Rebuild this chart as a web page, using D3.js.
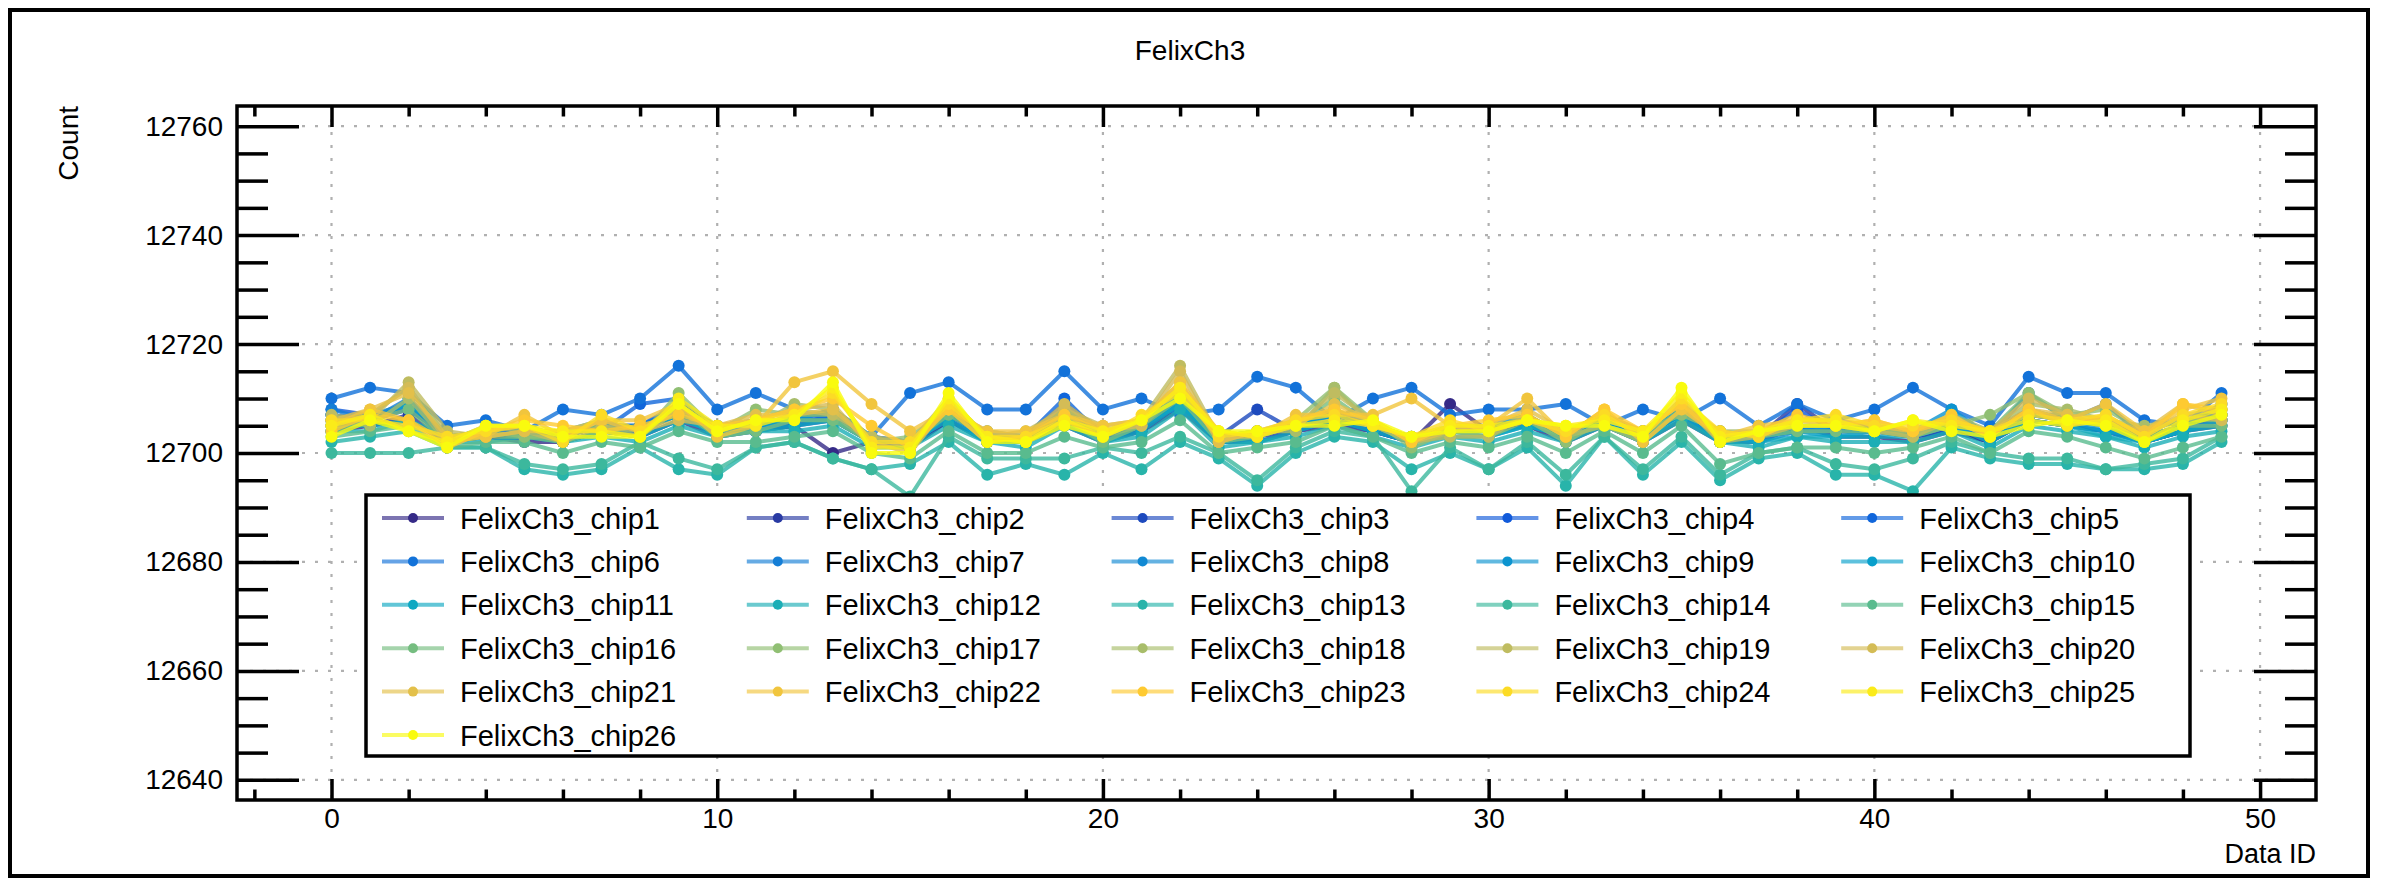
<!DOCTYPE html>
<html>
<head>
<meta charset="utf-8">
<script src="https://cdn.jsdelivr.net/npm/d3@7/dist/d3.min.js"></script>
<style>
  html, body { margin: 0; padding: 0; background: #fff; }
  svg { display: block; }
  text { font-family: "Liberation Sans", Arial, Helvetica, sans-serif; fill: #000; }
</style>
</head>
<body>
<svg id="chart" width="2381" height="880"></svg>
<script>
// ---------------- DATA ----------------
const dataIds = [0,1,2,3,4,5,6,7,8,9,10,11,12,13,14,15,16,17,18,19,20,21,22,23,24,25,26,27,28,29,30,31,32,33,34,35,36,37,38,39,40,41,42,43,44,45,46,47,48,49];

const seriesNames = ["FelixCh3_chip1","FelixCh3_chip2","FelixCh3_chip3","FelixCh3_chip4","FelixCh3_chip5",
  "FelixCh3_chip6","FelixCh3_chip7","FelixCh3_chip8","FelixCh3_chip9","FelixCh3_chip10",
  "FelixCh3_chip11","FelixCh3_chip12","FelixCh3_chip13","FelixCh3_chip14","FelixCh3_chip15",
  "FelixCh3_chip16","FelixCh3_chip17","FelixCh3_chip18","FelixCh3_chip19","FelixCh3_chip20",
  "FelixCh3_chip21","FelixCh3_chip22","FelixCh3_chip23","FelixCh3_chip24","FelixCh3_chip25","FelixCh3_chip26"];

const chip1 = [12704,12705,12706,12702,12703,12702,12702,12704,12703,12706, 12703,12704,12705,12700,12702,12701,12706,12702,12702,12705, 12702,12704,12708,12702,12702,12704,12705,12704,12702,12709, 12704,12705,12702,12705,12702,12706,12702,12702,12705,12703, 12703,12702,12704,12702,12706,12705,12704,12702,12704,12705];
const chip2 = [12706,12705,12707,12702,12703,12703,12702,12704,12704,12708, 12704,12704,12705,12706,12702,12701,12706,12702,12702,12707, 12703,12704,12709,12702,12703,12704,12706,12704,12702,12705, 12704,12705,12703,12705,12703,12707,12702,12703,12709,12704, 12704,12703,12704,12702,12706,12705,12704,12702,12704,12706];
const chip3 = [12707,12706,12708,12703,12703,12704,12703,12705,12705,12708, 12704,12705,12705,12707,12702,12702,12707,12703,12703,12708, 12703,12705,12709,12703,12708,12704,12706,12704,12702,12704, 12705,12706,12703,12706,12703,12707,12703,12703,12704,12704, 12705,12703,12704,12703,12707,12706,12705,12702,12704,12707];
const chip4 = [12708,12707,12708,12703,12704,12704,12703,12705,12705,12709, 12705,12706,12706,12708,12703,12702,12707,12703,12703,12709, 12704,12705,12710,12703,12704,12705,12706,12705,12703,12704, 12705,12706,12704,12706,12703,12707,12703,12703,12708,12704, 12704,12704,12705,12704,12708,12706,12706,12703,12705,12708];
const chip5 = [12707,12706,12709,12702,12704,12703,12702,12704,12709,12710, 12704,12705,12706,12707,12702,12702,12708,12703,12703,12710, 12703,12705,12709,12702,12703,12705,12707,12705,12702,12705, 12704,12706,12703,12706,12704,12707,12703,12703,12705,12704, 12704,12703,12705,12703,12711,12706,12709,12703,12705,12709];
const chip6 = [12710,12712,12711,12705,12706,12704,12708,12707,12710,12716, 12708,12711,12708,12706,12703,12711,12713,12708,12708,12715, 12708,12710,12707,12708,12714,12712,12706,12710,12712,12707, 12708,12708,12709,12705,12708,12706,12710,12705,12709,12706, 12708,12712,12708,12705,12714,12711,12711,12706,12705,12711];
const chip7 = [12708,12706,12710,12703,12704,12703,12703,12705,12704,12707, 12704,12705,12707,12707,12703,12702,12707,12703,12703,12707, 12704,12705,12709,12703,12704,12705,12707,12705,12702,12705, 12705,12706,12703,12706,12704,12707,12704,12703,12704,12704, 12705,12704,12705,12704,12707,12706,12705,12703,12705,12706];
const chip8 = [12706,12707,12709,12702,12703,12704,12703,12705,12705,12708, 12705,12704,12706,12708,12702,12701,12707,12702,12702,12708, 12703,12706,12710,12703,12703,12705,12708,12705,12702,12704, 12704,12706,12702,12706,12703,12708,12703,12702,12704,12704, 12704,12703,12705,12703,12707,12707,12705,12702,12705,12707];
const chip9 = [12707,12705,12710,12703,12704,12705,12703,12705,12704,12707, 12705,12705,12706,12708,12703,12701,12708,12703,12702,12707, 12704,12705,12711,12703,12703,12706,12707,12705,12703,12704, 12705,12707,12703,12705,12703,12709,12702,12703,12704,12705, 12704,12704,12708,12703,12707,12706,12704,12703,12705,12707];
const chip10 = [12705,12706,12709,12703,12703,12704,12704,12706,12704,12707, 12703,12705,12706,12706,12702,12702,12707,12704,12703,12706, 12702,12705,12709,12702,12703,12705,12707,12705,12702,12704, 12703,12705,12703,12706,12703,12708,12703,12703,12704,12703, 12704,12703,12706,12703,12706,12705,12704,12702,12704,12706];
const chip11 = [12705,12705,12706,12703,12703,12704,12702,12704,12703,12706, 12704,12704,12705,12706,12702,12702,12706,12702,12702,12706, 12702,12704,12709,12702,12702,12704,12706,12704,12702,12703, 12703,12705,12703,12705,12702,12707,12702,12702,12703,12703, 12703,12703,12705,12702,12706,12705,12703,12702,12704,12705];
const chip12 = [12704,12704,12706,12702,12702,12703,12702,12703,12702,12705, 12703,12704,12704,12705,12701,12701,12705,12702,12701,12705, 12702,12703,12708,12701,12702,12703,12705,12703,12701,12703, 12702,12704,12702,12705,12702,12706,12702,12701,12703,12702, 12702,12702,12704,12701,12705,12704,12703,12701,12703,12704];
const chip13 = [12702,12703,12704,12701,12701,12697,12696,12697,12701,12697, 12696,12701,12702,12699,12697,12698,12702,12696,12698,12696, 12700,12697,12702,12699,12694,12700,12703,12702,12697,12700, 12697,12701,12694,12703,12696,12702,12695,12699,12700,12696, 12696,12693,12701,12699,12698,12698,12697,12697,12698,12702];
const chip14 = [12700,12700,12700,12701,12701,12698,12697,12698,12702,12699, 12697,12701,12702,12699,12697,12692,12703,12699,12699,12699, 12701,12700,12703,12700,12695,12701,12704,12703,12693,12701, 12697,12702,12696,12703,12697,12703,12696,12700,12701,12698, 12697,12699,12702,12700,12699,12699,12697,12698,12699,12703];
const chip15 = [12703,12704,12705,12701,12702,12702,12700,12702,12701,12704, 12702,12702,12703,12704,12700,12699,12704,12700,12700,12703, 12701,12702,12706,12700,12701,12702,12705,12703,12700,12702, 12701,12703,12700,12704,12700,12705,12698,12700,12701,12701, 12700,12701,12703,12700,12704,12703,12701,12699,12701,12703];
const chip16 = [12704,12706,12708,12702,12703,12703,12702,12704,12703,12708, 12703,12704,12706,12706,12702,12702,12707,12703,12702,12706, 12702,12705,12710,12702,12703,12705,12710,12705,12702,12704, 12704,12706,12703,12705,12703,12708,12703,12703,12704,12704, 12704,12703,12706,12704,12711,12706,12705,12703,12705,12705];
const chip17 = [12705,12707,12712,12703,12704,12703,12703,12705,12703,12711, 12704,12708,12707,12707,12702,12703,12708,12702,12703,12707, 12703,12705,12711,12703,12703,12706,12712,12706,12701,12704, 12703,12706,12702,12706,12704,12707,12704,12703,12705,12705, 12705,12703,12705,12707,12711,12707,12708,12704,12706,12706];
const chip18 = [12706,12705,12710,12702,12705,12704,12704,12704,12703,12708, 12704,12705,12709,12708,12703,12701,12709,12703,12703,12708, 12704,12706,12712,12703,12704,12704,12712,12705,12702,12705, 12704,12707,12703,12705,12702,12708,12704,12704,12705,12705, 12704,12704,12707,12704,12709,12708,12706,12705,12706,12707];
const chip19 = [12707,12706,12713,12704,12703,12704,12702,12705,12704,12708, 12704,12706,12708,12707,12703,12702,12710,12703,12704,12708, 12705,12706,12716,12703,12703,12705,12711,12706,12702,12703, 12703,12707,12703,12707,12703,12710,12702,12703,12705,12705, 12704,12703,12706,12703,12708,12706,12706,12703,12707,12708];
const chip20 = [12705,12707,12712,12702,12704,12705,12703,12706,12704,12706, 12705,12706,12708,12709,12701,12702,12708,12704,12703,12709, 12704,12705,12715,12702,12704,12706,12708,12705,12703,12705, 12704,12706,12704,12707,12704,12709,12702,12704,12706,12706, 12705,12704,12706,12704,12710,12707,12705,12704,12707,12706];
const chip21 = [12706,12708,12711,12703,12703,12704,12704,12706,12704,12708, 12705,12707,12707,12708,12702,12700,12709,12703,12702,12706, 12703,12706,12713,12702,12704,12705,12709,12706,12702,12704, 12705,12708,12704,12707,12704,12709,12704,12703,12706,12706, 12705,12704,12706,12704,12708,12707,12706,12704,12709,12707];
const chip22 = [12705,12708,12706,12702,12703,12707,12703,12706,12706,12709, 12703,12705,12713,12715,12709,12704,12708,12704,12704,12707, 12705,12706,12713,12704,12703,12707,12707,12707,12710,12705, 12705,12710,12703,12708,12702,12708,12703,12705,12706,12705, 12706,12704,12706,12703,12708,12706,12709,12704,12708,12710];
const chip23 = [12704,12707,12706,12701,12704,12706,12705,12704,12705,12707, 12705,12706,12708,12710,12705,12701,12708,12702,12703,12707, 12704,12706,12712,12704,12703,12706,12708,12706,12702,12705, 12706,12707,12703,12708,12704,12709,12703,12704,12707,12705, 12706,12704,12707,12703,12708,12705,12707,12703,12709,12708];
const chip24 = [12706,12706,12705,12703,12704,12705,12702,12707,12704,12709, 12704,12706,12707,12711,12702,12702,12709,12703,12703,12706, 12703,12707,12711,12703,12704,12706,12707,12705,12703,12706, 12704,12706,12704,12707,12703,12710,12704,12703,12706,12707, 12705,12705,12706,12704,12707,12706,12707,12703,12707,12709];
const chip25 = [12705,12707,12704,12702,12705,12705,12704,12704,12703,12710, 12705,12705,12707,12712,12701,12701,12710,12703,12702,12706, 12704,12706,12712,12704,12703,12705,12706,12705,12703,12705, 12705,12706,12705,12706,12704,12711,12703,12704,12706,12706, 12704,12706,12705,12704,12706,12705,12706,12702,12706,12708];
const chip26 = [12703,12706,12704,12701,12705,12705,12703,12703,12703,12709, 12704,12706,12706,12713,12700,12700,12711,12702,12702,12705, 12703,12706,12710,12704,12704,12705,12705,12706,12703,12704, 12704,12706,12705,12705,12703,12712,12702,12704,12705,12705, 12704,12706,12704,12703,12705,12706,12705,12702,12705,12707];

const seriesValues = [chip1,chip2,chip3,chip4,chip5,chip6,chip7,chip8,chip9,chip10,chip11,chip12,chip13,
  chip14,chip15,chip16,chip17,chip18,chip19,chip20,chip21,chip22,chip23,chip24,chip25,chip26];

const xMajorTicks = [0,10,20,30,40,50];
const yMajorTicks = [12640,12660,12680,12700,12720,12740,12760];
const chartTitle = "FelixCh3";
const xTitle = "Data ID";
const yTitle = "Count";

// ---------------- LAYOUT ----------------
const W = 2381, H = 880;
const frame = {left: 237, right: 2316, top: 106, bottom: 800};
const svg = d3.select("#chart");
svg.append("rect").attr("x",0).attr("y",0).attr("width",W).attr("height",H).attr("fill","#fff");

const x = d3.scaleLinear().domain([-2.45, 51.45]).range([frame.left, frame.right]);
const y = d3.scaleLinear().domain([12636.3, 12763.7]).range([frame.bottom, frame.top]);

// ROOT kBird palette
const birdStops = [
  [0.2082,0.1664,0.5293],[0.0592,0.3599,0.8684],[0.0780,0.5041,0.8385],[0.0232,0.6419,0.7914],
  [0.1802,0.7178,0.6425],[0.5301,0.7492,0.4662],[0.8186,0.7328,0.3499],[0.9956,0.7862,0.1968],
  [0.9764,0.9832,0.0539]];
function bird(t) {
  const n = birdStops.length - 1;
  const p = Math.min(n - 1e-9, Math.max(0, t * n));
  const i = Math.floor(p), f = p - i;
  const a = birdStops[i], b = birdStops[i+1];
  return d3.rgb((a[0]+(b[0]-a[0])*f)*255, (a[1]+(b[1]-a[1])*f)*255, (a[2]+(b[2]-a[2])*f)*255).formatHex();
}
const colors = seriesValues.map((_, i) => bird(i / (seriesValues.length - 1)));

// Grid (dotted)
const xMinor = d3.range(-2, 52, 2).filter(v => !xMajorTicks.includes(v));
const yMinor = d3.range(12640, 12764, 5).filter(v => !yMajorTicks.includes(v));
const grid = svg.append("g");
grid.selectAll("line.gx").data(xMajorTicks).join("line")
  .attr("x1", d => x(d)).attr("x2", d => x(d)).attr("y1", frame.top).attr("y2", frame.bottom)
  .attr("stroke", "#b0b0b0").attr("stroke-width", 2.2).attr("stroke-dasharray", "3,10");
grid.selectAll("line.gy").data(yMajorTicks).join("line")
  .attr("x1", frame.left).attr("x2", frame.right).attr("y1", d => y(d)).attr("y2", d => y(d))
  .attr("stroke", "#b0b0b0").attr("stroke-width", 2.2).attr("stroke-dasharray", "3,10");

// Series
const plot = svg.append("g");
const line = d3.line().x((d, i) => x(dataIds[i])).y(d => y(d));
seriesValues.forEach((vals, si) => {
  const g = plot.append("g");
  g.append("path").datum(vals).attr("d", line).attr("fill", "none")
    .attr("stroke", colors[si]).attr("stroke-width", 4).attr("stroke-opacity", 0.8)
    .attr("stroke-linejoin", "round");
  g.selectAll("circle").data(vals).join("circle")
    .attr("cx", (d, i) => x(dataIds[i])).attr("cy", d => y(d)).attr("r", 6)
    .attr("fill", colors[si]);
});

// Axes
function styleAxis(g) {
  g.select(".domain").remove();
  g.selectAll(".tick line").attr("stroke", "#000").attr("stroke-width", 3.5);
  g.selectAll(".tick text").attr("font-family", "Liberation Sans, Arial, sans-serif").attr("font-size", 28).attr("fill", "#000");
}
svg.append("g").attr("transform", `translate(${frame.left},0)`)
  .call(d3.axisLeft(y).tickValues(yMajorTicks).tickSize(-62).tickPadding(14).tickFormat(d3.format("d"))).call(styleAxis);
svg.append("g").attr("transform", `translate(${frame.left},0)`)
  .call(d3.axisLeft(y).tickValues(yMinor).tickSize(-31).tickFormat("")).call(styleAxis);
svg.append("g").attr("transform", `translate(${frame.right},0)`)
  .call(d3.axisRight(y).tickValues(yMajorTicks).tickSize(-62).tickFormat("")).call(styleAxis);
svg.append("g").attr("transform", `translate(${frame.right},0)`)
  .call(d3.axisRight(y).tickValues(yMinor).tickSize(-31).tickFormat("")).call(styleAxis);
svg.append("g").attr("transform", `translate(0,${frame.bottom})`)
  .call(d3.axisBottom(x).tickValues(xMajorTicks).tickSize(-21).tickPadding(8).tickFormat(d3.format("d"))).call(styleAxis);
svg.append("g").attr("transform", `translate(0,${frame.bottom})`)
  .call(d3.axisBottom(x).tickValues(xMinor).tickSize(-10.5).tickFormat("")).call(styleAxis);
svg.append("g").attr("transform", `translate(0,${frame.top})`)
  .call(d3.axisTop(x).tickValues(xMajorTicks).tickSize(-21).tickFormat("")).call(styleAxis);
svg.append("g").attr("transform", `translate(0,${frame.top})`)
  .call(d3.axisTop(x).tickValues(xMinor).tickSize(-10.5).tickFormat("")).call(styleAxis);

// Plot frame
svg.append("rect").attr("x", frame.left).attr("y", frame.top)
  .attr("width", frame.right - frame.left).attr("height", frame.bottom - frame.top)
  .attr("fill", "none").attr("stroke", "#000").attr("stroke-width", 3.5);

// Legend
const leg = {x: 366, y: 495, w: 1824, h: 261, cols: 5, colW: 364.8, row0: 518, rowH: 43.4};
const lg = svg.append("g");
lg.append("rect").attr("x", leg.x).attr("y", leg.y).attr("width", leg.w).attr("height", leg.h)
  .attr("fill", "#fff").attr("stroke", "#000").attr("stroke-width", 3.5);
seriesNames.forEach((name, i) => {
  const c = i % leg.cols, r = Math.floor(i / leg.cols);
  const cx = leg.x + c * leg.colW, cy = leg.row0 + r * leg.rowH;
  lg.append("line").attr("x1", cx + 16).attr("x2", cx + 78).attr("y1", cy).attr("y2", cy)
    .attr("stroke", colors[i]).attr("stroke-width", 4).attr("stroke-opacity", 0.65);
  lg.append("circle").attr("cx", cx + 47).attr("cy", cy).attr("r", 5).attr("fill", colors[i]);
  lg.append("text").attr("x", cx + 94).attr("y", cy + 10.5).attr("font-size", 29).text(name);
});

// Titles
svg.append("text").attr("x", 1190).attr("y", 60).attr("text-anchor", "middle").attr("font-size", 28).text(chartTitle);
svg.append("text").attr("transform", `translate(78,${frame.top}) rotate(-90)`).attr("text-anchor", "end")
  .attr("font-size", 28).text(yTitle);
svg.append("text").attr("x", frame.right).attr("y", 863).attr("text-anchor", "end").attr("font-size", 27).text(xTitle);

// Outer canvas frame
svg.append("rect").attr("x", 10).attr("y", 10).attr("width", 2358).attr("height", 866)
  .attr("fill", "none").attr("stroke", "#000").attr("stroke-width", 4);
</script>
</body>
</html>
